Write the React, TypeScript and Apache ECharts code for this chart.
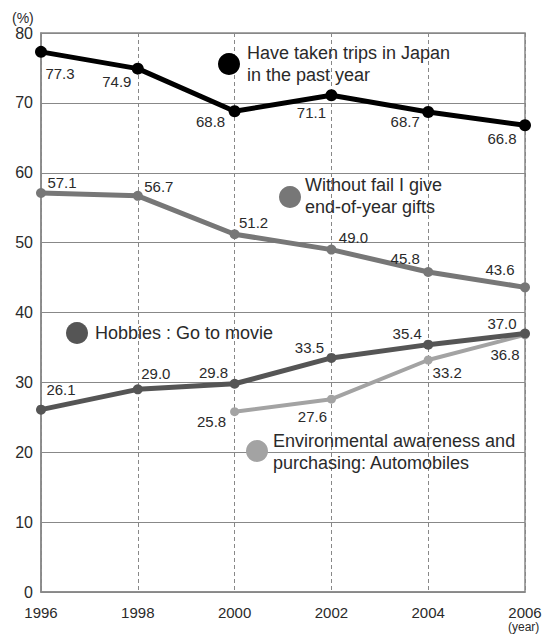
import React, { useEffect, useRef } from "react";
import * as echarts from "echarts";

const years = ["1996", "1998", "2000", "2002", "2004", "2006"];
const tripsJapan = [77.3, 74.9, 68.8, 71.1, 68.7, 66.8];
const yearEndGifts = [57.1, 56.7, 51.2, 49.0, 45.8, 43.6];
const hobbiesMovie = [26.1, 29.0, 29.8, 33.5, 35.4, 37.0];
const envAutomobiles: (number | null)[] = [null, null, 25.8, 27.6, 33.2, 36.8];

// label offsets (style only)
const tripsOff = [[19, 22], [-21, 13], [-24, 10], [-20, 17], [-23, 10], [-23, 13]];
const giftsOff = [[21, -11], [21, -9], [19, -12], [22, -12], [-23, -13], [-25, -18]];
const hobbiesOff = [[20, -20], [18, -16], [-21, -11], [-22, -10], [-21, -11], [-23, -10]];
const envOff = [[0, 0], [0, 0], [-23, 10], [-19, 17], [19, 12], [-20, 20]];

const FONT = "Liberation Sans";
const TXT = "#2a2a2a";

function buildData(vals: (number | null)[], offs: number[][]) {
  return vals.map((v, i) =>
    v === null
      ? "-"
      : {
          value: v,
          label: { offset: offs[i] },
        }
  );
}

export default function App() {
  const ref = useRef<HTMLDivElement>(null);
  useEffect(() => {
    if (!ref.current) return;
    const chart = echarts.init(ref.current, null, { renderer: "svg" });
    const lbl = {
      show: true,
      position: "inside",
      formatter: (p: any) => Number(p.value).toFixed(1),
      fontFamily: FONT,
      fontSize: 15,
      color: TXT,
    };
    const mk = (name: string, vals: (number | null)[], offs: number[][], color: string, width: number, sym: number, z: number) => ({
      name,
      type: "line",
      data: buildData(vals, offs),
      symbol: "circle",
      symbolSize: sym,
      z,
      lineStyle: { color, width },
      itemStyle: { color },
      label: lbl,
      connectNulls: false,
    });
    const annText = (x: number, y: number, text: string) => ({
      type: "text",
      left: x,
      top: y,
      style: {
        text,
        fontFamily: FONT,
        fontSize: 18,
        lineHeight: 22,
        fill: TXT,
      },
      z: 100,
    });
    const annCircle = (cx: number, cy: number, color: string) => ({
      type: "circle",
      shape: { cx, cy, r: 11 },
      style: { fill: color },
      z: 100,
    });
    chart.setOption({
      animation: false,
      grid: {
        left: 41,
        right: 25,
        top: 33,
        bottom: 42,
        show: true,
        borderColor: "#888",
        borderWidth: 1.5,
      },
      xAxis: {
        type: "category",
        data: years,
        boundaryGap: false,
        axisLine: { lineStyle: { color: "#888", width: 1.5 } },
        axisTick: { show: false },
        axisLabel: {
          fontFamily: FONT,
          fontSize: 15,
          color: TXT,
          margin: 13,
        },
        splitLine: { show: true, lineStyle: { color: "#888", type: [4, 3], width: 1 } },
      },
      yAxis: {
        type: "value",
        min: 0,
        max: 80,
        interval: 10,
        axisLine: { show: true, lineStyle: { color: "#888", width: 1.5 } },
        axisTick: { show: false },
        axisLabel: {
          fontFamily: FONT,
          fontSize: 16,
          color: TXT,
          margin: 8,
        },
        splitLine: { show: true, lineStyle: { color: "#888", width: 1 } },
      },
      series: [
        mk("Environmental awareness and purchasing: Automobiles", envAutomobiles, envOff, "#a3a3a3", 4, 9, 2),
        mk("Hobbies : Go to movie", hobbiesMovie, hobbiesOff, "#555555", 5, 10, 3),
        mk("Without fail I give end-of-year gifts", yearEndGifts, giftsOff, "#777777", 5, 10, 4),
        mk("Have taken trips in Japan in the past year", tripsJapan, tripsOff, "#000000", 5, 12, 5),
      ],
      graphic: [
        { type: "text", left: 12, top: 11, style: { text: "(%)", fontFamily: FONT, fontSize: 14, fill: TXT } },
        { type: "text", left: 508, top: 621, style: { text: "(year)", fontFamily: FONT, fontSize: 12, fill: TXT } },
        annCircle(229, 64, "#000000"),
        annText(247, 42, "Have taken trips in Japan\nin the past year"),
        annCircle(290, 197, "#777777"),
        annText(305, 174, "Without fail I give\nend-of-year gifts"),
        annCircle(77, 333, "#555555"),
        annText(95, 322, "Hobbies : Go to movie"),
        annCircle(257, 451, "#a3a3a3"),
        annText(273, 430, "Environmental awareness and\npurchasing: Automobiles"),
      ],
    });
    return () => chart.dispose();
  }, []);
  return (
    <div
      ref={ref}
      style={{ position: "fixed", left: 0, top: 0, width: 550, height: 634, background: "#fff" }}
    />
  );
}
